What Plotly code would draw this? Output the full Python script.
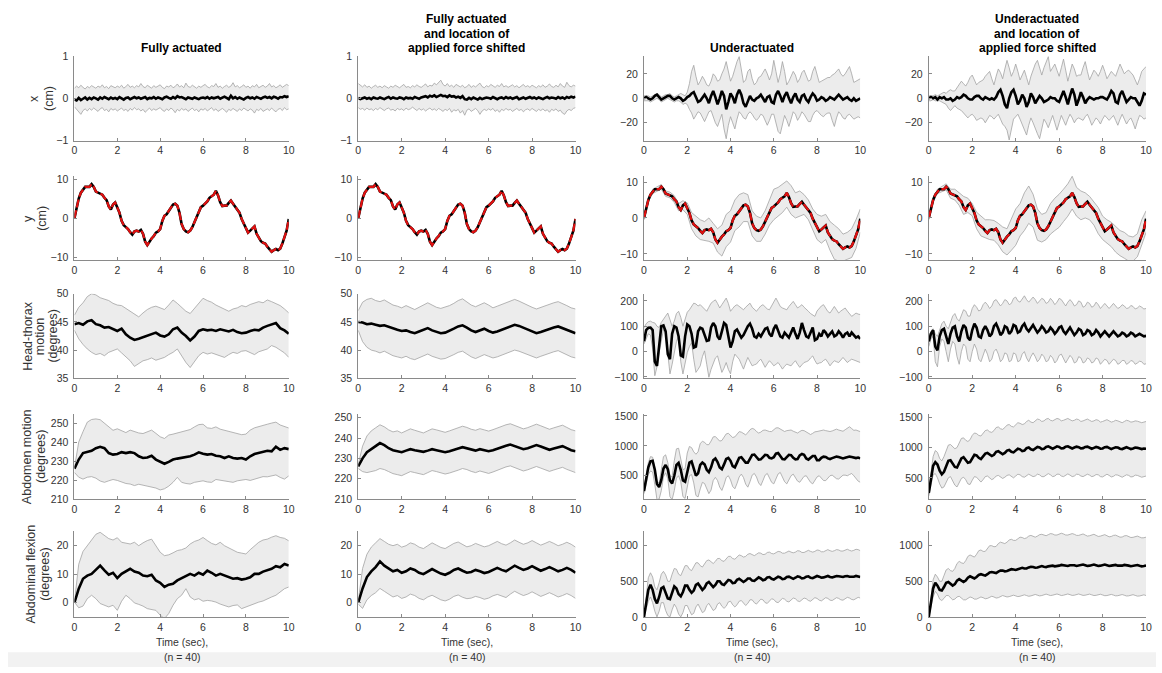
import plotly.graph_objects as go

W, H = 1162, 673
T101 = [i / 10 for i in range(101)]
T51 = [i / 5 for i in range(51)]

# ---------------- Row 1 : x (cm) ----------------
R1C1_MEAN = [-0.03,-0.05,0.01,-0.04,-0.01,0.02,-0.03,0.01,-0.02,0.02, 0.00,-0.03,0.02,-0.01,0.03,0.00,-0.02,0.02,-0.01,0.01, -0.02,0.03,0.00,-0.03,0.01,0.02,-0.02,0.01,0.03,0.00, 0.02,-0.01,0.01,0.03,-0.02,0.01,0.00,0.03,-0.01,0.02, 0.00,-0.02,0.02,0.04,0.01,-0.01,0.03,0.00,0.05,0.02, 0.03,0.00,-0.02,0.02,0.01,-0.01,0.02,0.00,-0.02,0.01, 0.02,0.00,0.03,-0.01,0.02,0.00,0.01,0.03,-0.01,0.02, 0.04,0.01,-0.02,0.06,0.00,0.03,-0.01,0.02,0.00,-0.03, 0.01,0.03,0.00,0.02,-0.01,0.03,0.01,-0.01,0.02,0.04, 0.01,0.03,0.00,0.04,0.02,-0.01,0.03,0.02,0.05,0.03, 0.05]
R1C1_UP = [0.24,0.29,0.25,0.31,0.26,0.22,0.28,0.25,0.30,0.27, 0.24,0.29,0.26,0.32,0.25,0.28,0.23,0.30,0.27,0.25, 0.29,0.26,0.31,0.24,0.28,0.33,0.26,0.29,0.25,0.30, 0.27,0.35,0.28,0.25,0.31,0.27,0.24,0.30,0.26,0.29, 0.32,0.26,0.23,0.29,0.27,0.31,0.25,0.28,0.34,0.27, 0.30,0.25,0.36,0.28,0.26,0.31,0.27,0.24,0.29,0.26, 0.30,0.33,0.27,0.25,0.30,0.28,0.35,0.26,0.29,0.24, 0.28,0.31,0.26,0.29,0.37,0.27,0.30,0.25,0.28,0.32, 0.26,0.29,0.24,0.30,0.27,0.33,0.25,0.28,0.31,0.26, 0.29,0.35,0.27,0.30,0.25,0.28,0.32,0.26,0.29,0.33, 0.30]
R1C1_LO = [-0.20,-0.26,-0.31,-0.38,-0.29,-0.25,-0.30,-0.24,-0.28,-0.23, -0.27,-0.31,-0.25,-0.22,-0.29,-0.26,-0.32,-0.24,-0.28,-0.25, -0.30,-0.27,-0.23,-0.29,-0.26,-0.31,-0.24,-0.28,-0.22,-0.27, -0.25,-0.30,-0.26,-0.33,-0.27,-0.23,-0.29,-0.25,-0.28,-0.24, -0.22,-0.28,-0.31,-0.25,-0.29,-0.23,-0.27,-0.34,-0.26,-0.30, -0.24,-0.28,-0.25,-0.31,-0.27,-0.23,-0.29,-0.26,-0.32,-0.25, -0.28,-0.24,-0.30,-0.26,-0.22,-0.29,-0.25,-0.31,-0.27,-0.24, -0.28,-0.33,-0.26,-0.29,-0.24,-0.27,-0.31,-0.25,-0.29,-0.23, -0.27,-0.30,-0.25,-0.28,-0.35,-0.26,-0.29,-0.24,-0.31,-0.27, -0.25,-0.29,-0.23,-0.28,-0.32,-0.26,-0.24,-0.29,-0.22,-0.27, -0.25]

R1C2_MEAN = [0.01,-0.02,0.00,0.02,-0.01,0.01,-0.02,0.02,0.00,-0.01, 0.02,0.00,-0.02,0.01,0.03,-0.01,0.02,0.00,-0.01,0.02, 0.01,-0.02,0.02,0.00,0.01,-0.01,0.03,0.01,-0.01,0.02, 0.03,0.05,0.02,0.06,0.04,0.07,0.03,0.06,0.08,0.05, 0.06,0.03,0.07,0.04,0.05,0.02,0.04,0.01,0.05,-0.02, -0.03,0.01,-0.02,0.02,-0.01,-0.03,0.01,-0.02,0.00,0.02, 0.01,-0.01,0.03,0.00,-0.02,0.01,0.02,-0.01,0.03,0.00, 0.02,-0.01,0.01,0.03,-0.02,0.00,0.02,-0.01,0.01,0.03, 0.00,0.02,-0.01,0.02,0.00,-0.02,0.01,0.03,0.00,0.02, 0.01,-0.01,0.03,0.00,0.02,-0.01,0.03,0.01,0.04,0.02, 0.04]
R1C2_UP = [0.35,0.30,0.27,0.32,0.26,0.29,0.24,0.28,0.31,0.26, 0.29,0.25,0.30,0.27,0.24,0.29,0.26,0.31,0.28,0.25, 0.29,0.33,0.26,0.28,0.25,0.30,0.27,0.32,0.28,0.26, 0.30,0.34,0.27,0.31,0.29,0.36,0.32,0.38,0.43,0.33, 0.29,0.35,0.28,0.31,0.26,0.33,0.29,0.27,0.31,0.25, 0.28,0.33,0.26,0.30,0.27,0.31,0.36,0.28,0.25,0.30, 0.27,0.33,0.29,0.26,0.31,0.28,0.35,0.27,0.30,0.26, 0.29,0.32,0.27,0.30,0.25,0.29,0.33,0.27,0.30,0.26, 0.31,0.28,0.25,0.30,0.27,0.32,0.26,0.29,0.34,0.28, 0.26,0.31,0.27,0.35,0.29,0.26,0.38,0.30,0.27,0.31, 0.29]
R1C2_LO = [-0.22,-0.26,-0.24,-0.28,-0.23,-0.27,-0.25,-0.29,-0.24,-0.27, -0.22,-0.26,-0.29,-0.25,-0.23,-0.28,-0.26,-0.30,-0.24,-0.27, -0.25,-0.29,-0.23,-0.27,-0.25,-0.21,-0.26,-0.29,-0.24,-0.28, -0.25,-0.30,-0.26,-0.23,-0.28,-0.25,-0.29,-0.24,-0.27,-0.31, -0.26,-0.29,-0.24,-0.33,-0.27,-0.30,-0.26,-0.35,-0.29,-0.40, -0.28,-0.25,-0.31,-0.27,-0.24,-0.29,-0.38,-0.30,-0.26,-0.29, -0.25,-0.28,-0.24,-0.31,-0.27,-0.33,-0.26,-0.29,-0.24,-0.28, -0.26,-0.31,-0.27,-0.24,-0.29,-0.26,-0.32,-0.27,-0.25,-0.29, -0.24,-0.28,-0.31,-0.26,-0.29,-0.25,-0.30,-0.27,-0.33,-0.26, -0.29,-0.25,-0.31,-0.28,-0.35,-0.38,-0.30,-0.26,-0.29,-0.24, -0.22]

R1C3_MEAN = [0,1,0,-1,0,2,3,1,-1,0, 1,2,2,0,-1,0,1,0,-2,-1, 1,2,4,5,1,-3,-2,1,3,0, -4,2,6,1,-5,0,6,2,-9,-3, 4,1,-4,3,7,3,-4,-7,-2,2, -1,-2,0,1,3,0,-3,1,2,-3, -4,3,6,2,-3,2,5,0,-4,1, 4,-1,-3,2,3,-1,-3,1,4,2, -2,-1,1,0,-2,-1,1,0,-1,1, 3,1,-1,0,1,-1,-2,0,-2,-1, 0]
R1C3_UP = [2,2,2,1,2,3,4,3,1,2, 3,3,4,2,1,2,3,4,3,2, 5,12,22,27,18,11,14,18,15,11, 10,14,20,18,14,15,20,24,30,22, 14,18,25,30,34,25,13,15,22,24, 16,11,13,17,18,21,24,20,15,20, 31,22,13,20,30,22,11,14,18,22, 19,13,16,21,23,18,14,15,22,26, 20,13,14,15,16,17,17,19,20,22, 24,20,18,20,23,26,20,13,14,15, 16]
R1C3_LO = [-2,-2,-2,-3,-2,-1,0,-1,-3,-2, -1,0,-1,-2,-3,-2,-2,-3,-5,-4, -5,-9,-12,-17,-14,-11,-12,-16,-19,-15, -11,-10,-15,-20,-23,-17,-13,-25,-33,-22, -15,-20,-25,-17,-11,-13,-16,-17,-13,-11, -13,-16,-18,-16,-13,-14,-18,-22,-18,-13, -13,-20,-27,-29,-20,-14,-18,-23,-17,-11, -13,-18,-15,-11,-13,-16,-19,-19,-14,-11, -10,-12,-14,-15,-13,-12,-12,-18,-23,-16, -11,-13,-16,-17,-14,-13,-15,-17,-16,-15, -16]

R1C4_MEAN = [0,1,0,1,-1,1,0,1,-1,-1, 0,-2,-1,1,0,1,3,2,0,-1, -1,1,2,2,0,-1,1,0,-1,0, -1,1,5,7,2,-5,-8,0,5,7, 2,-5,-2,3,0,-7,-3,4,1,-4, -1,2,0,-3,-2,-1,1,0,0,-2, -3,2,6,1,-5,2,8,3,-6,-1, 5,1,-4,-1,1,0,-1,0,0,1, 1,0,-1,2,6,4,-3,-4,3,6, 1,-3,-1,1,0,0,-3,-6,-2,4, 3]
R1C4_UP = [2,2,2,3,2,3,4,5,4,6, 7,6,6,9,12,14,12,10,13,17, 19,15,11,13,14,15,18,20,22,16, 11,18,24,21,16,24,31,25,18,22, 28,22,15,19,23,17,11,18,24,28, 31,25,19,25,30,34,22,25,28,23, 18,25,32,23,14,21,28,24,18,19, 19,25,30,22,15,19,23,21,18,22, 27,22,16,19,22,20,18,23,28,24, 20,22,23,21,19,15,11,16,22,24, 26]
R1C4_LO = [-2,-2,-1,-2,-2,-2,-3,-4,-5,-8, -10,-8,-6,-8,-9,-10,-12,-14,-16,-14, -13,-15,-18,-17,-16,-17,-20,-17,-14,-15, -17,-15,-13,-17,-21,-23,-26,-34,-25,-17, -15,-13,-17,-21,-26,-30,-22,-16,-20,-25, -29,-33,-25,-17,-20,-24,-19,-14,-20,-26, -20,-14,-18,-22,-17,-13,-16,-20,-17,-16, -17,-18,-15,-13,-17,-22,-19,-16,-18,-21, -17,-14,-16,-18,-16,-14,-18,-22,-17,-13, -17,-21,-18,-16,-20,-25,-19,-14,-15,-17, -16]

# ---------------- Row 2 : y (cm) ----------------
Y_TARGET = [0,3,5,6.5,7.4,8,8,8,8.7,8, 6.8,6.6,6.4,6,5.2,4.6,3,2.2,3.5,4, 2.7,1.4,-0.7,-1.8,-2.3,-2.8,-3.6,-4.2,-3.4,-3.2, -3.4,-3,-4,-6,-6.9,-6,-5.2,-4.6,-3.7,-3.4, -2.8,-0.7,0.6,1,1.8,2.9,3.5,3.7,3.2,1.4, -1.5,-2.8,-3.4,-3.6,-3.2,-2.3,-1.1,0.2,1.4,2.8, 3.2,3.7,4.3,5.2,5.6,6,7,5.8,4.1,3.1, 3.2,3.2,3.9,4.5,3.7,2.9,2.4,1.4,-0.2,-1.5, -2.8,-3.7,-3.2,-2.6,-2.1,-4,-4.8,-5.9,-6.3,-6.5, -7.3,-7.9,-8.6,-8.2,-7.9,-8.2,-7.8,-6.5,-4.8,-3.2, -0.2]
R2C3_UP = [0.5,5.5,8,8.7,9.3,7.5,7.2,6.2,4,4.8, 4.2,1.5,0.5,-0.5,-1,0,-1.5,-3,-2,1, 2,5,6.5,7,6.5,2,0.5,0,2,5, 8,8.5,9.5,10.3,9,7,7.5,6.5,5,2.5, 1,0.5,1,-1,-2,-3,-4.5,-4,-3,-0.5, 2.5]
R2C3_LO = [-0.5,4.5,6.8,7.3,8,6,5.6,4.3,2,2.3, 1,-3,-5,-6,-6.2,-6.5,-7,-9.5,-10.6,-8, -6.7,-3.5,-2.5,-1,-1,-5,-6.5,-6.5,-4.5,-2, -0.5,0.5,1.5,3,1,0,0.5,1,-0.5,-3.5, -6,-7,-6,-9,-11.5,-12,-12,-11.5,-11,-8.5, -4]
R2C4_UP = [0.5,5.5,8,8.8,9.5,8,8,7,6,5.5, 4,1.6,0.5,-0.5,-0.5,-0.7,-1.5,-2.5,-3,0, 2.5,4,7,8.9,6.6,2.5,1,1.5,4,5.5, 6.6,8,9.5,11.6,8.5,7.5,7,6,4.5,2.9, 0.5,-0.5,-1.2,-2.5,-3.5,-4,-5,-5.3,-4.4,-0.5, 2]
R2C4_LO = [-0.5,4.5,6.8,7.2,7.8,5.5,5,3.5,1,1.5, 0.6,-3,-5,-5.5,-6,-6.2,-7.5,-9.4,-10.3,-9, -7.6,-5,-3.5,-1.5,-2.5,-6.2,-6.7,-6,-4.5,-3.5, -2.6,-1,0.5,2.5,0.5,-0.5,0,-0.5,-2,-4.4, -6,-7,-8,-9.5,-10.5,-11.2,-12,-12,-10.8,-7.5, -4]

# ---------------- Row 3 : head-thorax (deg) ----------------
R3C1_MEAN = [44.6,44.8,44.5,45.1,45.3,44.6,44.4,44.0,44.1,43.7,43.4,43.8,42.8,42.2,41.8,42.0,42.3,42.6,42.8,43.1,42.6,42.4,42.8,43.7,44.0,43.1,42.5,41.7,42.4,43.4,43.7,43.5,43.6,43.4,43.7,43.5,43.3,43.6,43.2,43.0,43.1,43.4,43.6,43.5,44.0,44.3,44.5,44.8,43.9,43.5,42.9]
R3C1_UP = [46.2,47.6,48.4,49.5,50.0,49.8,49.3,49.0,48.8,48.3,48.0,47.9,47.4,46.9,46.5,45.9,46.6,47.2,47.6,47.8,47.5,47.2,48.0,48.9,48.3,47.6,46.9,46.5,47.4,48.4,49.2,48.8,48.5,48.0,47.6,47.2,46.9,47.3,47.5,47.9,47.7,48.1,48.3,48.6,48.4,48.9,48.6,48.2,47.9,47.3,46.6]
R3C1_LO = [43.5,42.0,41.0,40.2,39.6,39.2,39.4,39.0,39.6,39.9,40.2,39.5,38.8,38.1,37.1,37.6,38.1,38.3,38.6,38.2,38.4,38.7,39.2,39.6,40.2,38.9,37.8,36.9,37.9,39.0,39.6,39.3,39.5,39.2,38.9,38.7,39.2,39.6,39.4,39.8,39.9,39.5,39.2,39.7,40.0,40.2,40.8,40.5,40.0,39.5,38.7]

R3C2_MEAN = [45.0,44.9,44.6,44.7,44.5,44.3,44.4,44.1,43.8,43.6,43.4,43.5,43.2,43.0,43.3,43.6,43.9,43.5,43.2,43.0,43.1,43.4,43.8,44.2,44.4,44.0,43.5,43.2,43.5,43.8,43.4,43.1,43.3,43.6,43.9,44.2,44.5,44.3,44.0,43.6,43.3,43.0,43.2,43.5,43.8,44.0,44.2,43.9,43.5,43.2,43.0]
R3C2_UP = [47.0,48.5,49.0,49.2,48.8,48.6,48.9,48.4,48.0,47.8,47.5,47.9,47.6,47.2,47.6,48.0,48.4,48.0,47.6,47.4,47.6,47.9,48.3,48.8,49.1,48.6,48.0,47.7,48.0,48.4,48.0,47.5,47.8,48.1,48.4,48.7,49.0,48.7,48.3,47.9,47.6,47.3,47.6,47.9,48.2,48.4,48.6,48.3,47.9,47.5,47.3]
R3C2_LO = [43.5,41.5,40.5,40.0,39.8,39.5,39.8,39.4,39.0,38.8,38.6,38.9,38.5,38.3,38.6,38.9,39.3,38.9,38.6,38.4,38.5,38.8,39.2,39.6,39.8,39.3,38.8,38.5,38.9,39.2,38.9,38.6,38.8,39.1,39.4,39.7,40.0,39.8,39.5,39.2,38.9,38.6,38.9,39.2,39.5,39.7,39.9,39.5,39.1,38.8,38.6]

R3C3_MEAN = [41,85,94,95,85,-40,-56,30,100,103, 80,-10,-30,70,100,95,60,-15,-20,60, 107,100,70,16,20,80,94,90,65,42, 45,95,113,100,60,48,80,113,105,60, 16,40,80,87,70,55,65,85,100,110, 90,60,55,70,60,75,90,94,70,60, 90,105,85,60,55,75,65,55,75,95, 70,50,75,113,85,60,55,75,95,45, 50,70,60,85,75,60,70,80,60,65, 80,70,55,70,75,60,75,65,55,60, 50]
R3C3_UP = [94,110,118,120,115,113,100,95,115,130, 140,152,130,100,120,150,159,135,100,130, 155,165,180,191,188,180,185,175,165,159, 175,191,198,204,190,172,185,200,211,190, 159,170,180,185,178,170,165,175,185,191, 175,165,159,170,180,185,175,168,165,180, 200,211,195,178,172,168,165,178,190,198, 185,172,178,185,175,165,159,150,145,139, 160,172,180,185,170,158,152,165,178,165, 152,160,168,172,160,148,139,145,152,148, 146]
R3C3_LO = [30,50,70,65,10,-95,-60,-4,50,87, 75,-20,-88,-50,-10,40,61,-40,-88,-50, -4,20,35,-30,-82,-70,-56,-20,3,-50, -101,-70,-43,-25,-17,-50,-82,-65,-43,-70, -88,-40,-10,-20,-30,-50,-69,-45,-23,-40, -56,-52,-49,-38,-30,-45,-62,-48,-36,-45, -56,-50,-43,-55,-69,-58,-49,-53,-56,-45, -36,-50,-62,-52,-43,-40,-36,-25,-17,-35, -49,-45,-43,-35,-30,-42,-56,-45,-36,-40, -43,-33,-23,-33,-43,-36,-30,-33,-36,-40, -43]

R3C4_MEAN = [40,70,85,20,5,60,85,90,60,30, 70,95,100,60,40,80,105,95,55,45, 85,110,95,60,55,85,100,85,60,70, 100,110,90,65,75,100,95,70,80,105, 100,75,80,100,110,90,80,95,105,90, 75,85,100,90,75,80,95,85,70,80, 95,100,80,70,85,95,80,65,75,90, 85,65,70,85,80,65,70,85,75,60, 70,80,70,60,70,80,70,60,65,75, 70,60,65,75,70,60,65,70,65,60, 62]
R3C4_UP = [60,80,90,70,60,90,110,120,100,90, 120,140,150,130,120,145,165,160,140,140, 170,185,175,160,165,185,195,185,170,180, 200,205,190,180,190,205,200,185,190,210, 215,200,195,210,220,205,195,205,215,205, 190,200,210,205,190,195,210,200,185,195, 210,205,190,180,195,205,195,180,185,200, 195,175,180,195,190,175,180,195,185,170, 180,190,180,170,180,190,180,170,175,185, 180,170,172,182,178,168,172,180,175,168, 170]
R3C4_LO = [20,50,60,-40,-60,20,50,40,0,-40, 10,40,30,-20,-50,0,30,20,-30,-40, 0,30,10,-30,-40,-10,10,-10,-40,-30, 0,10,-10,-40,-30,-5,-10,-40,-35,-5, -10,-40,-35,-10,0,-25,-40,-20,-5,-20, -40,-30,-10,-20,-40,-35,-15,-25,-45,-35, -15,-10,-30,-45,-30,-15,-25,-45,-40,-20, -25,-45,-40,-25,-30,-45,-40,-25,-30,-50, -40,-30,-35,-50,-40,-30,-35,-50,-45,-35, -35,-50,-45,-35,-38,-50,-45,-38,-40,-50, -48]

# ---------------- Row 4 : abdomen motion (deg) ----------------
R4C1_MEAN = [226.0,230.8,234.2,234.7,235.4,236.8,237.5,236.8,234.2,233.4,233.7,234.7,234.2,234.7,234.2,232.5,231.6,231.9,232.8,230.8,229.6,228.6,229.6,230.8,231.3,231.6,232.0,232.5,233.4,234.6,233.9,233.4,233.7,232.8,232.5,231.6,232.5,231.6,231.3,231.6,230.8,232.5,233.7,234.2,235.1,235.4,235.1,237.6,235.9,236.8,236.3]
R4C1_UP = [226.5,240.0,245.5,250.5,251.9,252.2,251.8,250.0,248.0,246.2,247.0,245.8,245.0,246.3,245.5,244.8,244.5,245.2,246.3,244.6,242.8,241.9,243.7,244.2,244.9,245.5,246.0,246.6,248.0,249.2,249.4,247.5,247.2,248.0,246.8,246.3,245.6,245.2,244.5,243.9,244.2,246.3,247.5,248.0,248.8,249.4,250.0,250.5,249.0,248.3,247.4]
R4C1_LO = [224.0,221.5,220.5,221.5,221.8,221.0,219.5,218.8,219.6,220.3,219.8,218.8,218.2,217.9,217.1,217.8,217.4,216.6,216.3,215.8,214.8,215.4,216.8,218.8,221.4,218.8,218.2,217.9,218.8,219.3,219.6,219.0,218.8,220.3,219.9,219.6,219.0,218.8,219.6,220.0,220.3,219.8,220.5,221.4,221.8,221.7,222.3,222.7,221.4,220.5,222.2]

R4C2_MEAN = [226,230,233,234.5,236,237.5,236.5,235,234,233.5,233,233.8,234.5,234,233.5,233.2,233.8,234.5,234,233.5,233,233.5,234,234.8,235.5,235,234.2,233.8,234.5,234,233.5,234,234.8,235.5,236.2,236.8,236,235.2,234.5,235,235.8,236.5,235.8,235,234.2,234.8,235.5,236,235,234,233.5]
R4C2_UP = [227,236,241,243.5,245,246.5,245.5,244,243,243.5,242.5,243.5,244.5,243.8,243,242.5,243.5,244.5,244,243.2,242.8,243.5,244.2,245,245.8,245.2,244.3,243.8,244.6,244,243.4,244.1,245,245.8,246.5,247,246.2,245.3,244.5,245.1,246,246.8,246,245.1,244.3,245,245.8,246.3,245.2,244.1,243.5]
R4C2_LO = [225,223.5,223,223.5,224,225,224.5,223.5,222.5,222,221.5,222.5,223.5,223,222.5,222,223,224,223.5,222.8,222.3,222.8,223.4,224.2,225,224.5,223.6,223,223.8,223.2,222.6,223.3,224.2,225,225.8,226.3,225.5,224.6,223.8,224.4,225.3,226,225.2,224.4,223.6,224.3,225,225.6,224.6,223.6,223]

R4C3_MEAN = [243,450,640,740,750,600,360,310,430,620, 680,610,420,370,500,680,715,600,420,400, 560,720,740,620,500,540,680,720,690,600, 560,640,760,790,730,640,610,690,780,800, 750,660,640,720,800,810,770,720,720,790, 850,855,810,770,775,820,850,845,800,790, 810,870,880,830,780,775,820,850,845,800, 775,780,840,865,850,790,770,800,830,830, 760,760,800,820,815,790,780,795,810,820, 815,800,790,800,810,820,815,800,795,805, 790]
R4C3_UP = [300,520,720,820,810,620,400,380,600,820, 850,720,500,480,750,950,960,800,600,620, 880,990,970,900,860,900,1040,1075,1060,1020, 1020,1080,1150,1156,1110,1080,1090,1150,1200,1210, 1170,1140,1150,1200,1238,1230,1200,1185,1220,1270, 1292,1280,1240,1215,1230,1260,1265,1250,1240,1240, 1270,1300,1303,1280,1250,1240,1255,1265,1265,1245, 1230,1215,1240,1260,1255,1230,1210,1190,1210,1235, 1240,1250,1260,1265,1255,1245,1240,1250,1270,1280, 1265,1250,1245,1270,1300,1320,1290,1260,1265,1250, 1238]
R4C3_LO = [200,380,520,580,560,350,100,110,250,480, 550,450,150,100,250,460,500,400,150,120, 300,500,520,380,170,145,280,390,370,290, 200,260,420,473,420,310,254,350,470,500, 430,320,282,370,480,527,470,360,309,400, 510,538,480,380,336,420,510,538,470,390, 364,440,530,555,480,400,364,430,500,527, 470,410,391,440,490,500,450,390,364,420, 480,500,460,420,418,460,500,510,480,450, 445,480,510,510,500,520,538,500,445,410, 391]

R4C4_MEAN = [250,500,700,760,720,620,560,600,700,780, 790,740,680,670,740,820,840,800,750,760, 830,880,870,830,810,850,900,910,880,860, 880,930,940,910,890,910,950,960,930,920, 950,980,970,940,950,990,1000,970,960,990, 1010,1000,975,980,1010,1020,995,980,1000,1020, 1010,985,990,1015,1020,1000,985,1000,1015,1005, 985,990,1010,1015,995,980,995,1010,1000,980, 985,1005,1010,990,975,990,1005,1000,980,975, 995,1005,990,975,985,1000,995,980,975,985, 980]
R4C4_UP = [300,600,850,950,920,820,780,850,960,1040, 1050,1010,980,1000,1080,1150,1160,1120,1100,1130, 1200,1240,1230,1200,1190,1230,1280,1290,1260,1250, 1280,1330,1340,1310,1300,1330,1370,1380,1350,1340, 1370,1410,1400,1380,1390,1430,1450,1420,1410,1440, 1470,1460,1430,1440,1470,1480,1450,1440,1460,1480, 1470,1440,1450,1470,1480,1460,1440,1450,1470,1460, 1430,1440,1460,1470,1450,1430,1440,1460,1450,1420, 1430,1450,1460,1440,1420,1430,1450,1440,1420,1410, 1430,1450,1440,1420,1425,1440,1435,1420,1410,1420, 1430]
R4C4_LO = [200,400,550,570,500,400,330,350,440,500, 520,450,380,350,420,490,510,470,400,390, 460,520,510,460,430,470,520,530,500,470, 490,530,540,510,490,510,540,550,520,500, 530,560,550,520,510,540,560,540,520,530, 560,550,520,520,550,570,550,520,530,560, 560,530,520,550,565,545,520,530,560,555, 530,520,545,560,545,520,530,555,550,520, 515,540,560,540,515,525,550,545,520,510, 530,550,540,515,520,545,540,520,510,520, 530]

# ---------------- Row 5 : abdominal flexion (deg) ----------------
R5C1_MEAN = [0.0,4.9,8.4,9.5,10.1,11.6,13.0,11.3,9.8,10.5,8.6,10.1,10.9,11.9,10.9,10.5,9.5,9.3,9.8,7.8,7.0,5.5,6.3,6.6,7.8,8.6,9.5,10.1,9.5,10.5,9.8,11.3,10.5,9.5,10.1,9.5,8.9,8.4,8.6,8.1,8.4,8.9,10.1,10.1,10.9,11.3,11.9,12.8,12.4,13.6,13.0]
R5C1_UP = [0.2,13.5,18.0,20.0,22.3,24.0,24.7,23.5,22.5,22.0,22.8,21.2,20.8,20.6,21.2,20.0,21.0,21.8,22.3,20.0,17.7,16.5,16.8,17.5,18.3,18.6,19.2,20.6,21.5,22.0,22.9,21.8,20.8,20.3,21.2,20.0,19.2,18.5,17.7,17.4,17.1,18.6,20.0,21.2,22.0,22.3,23.0,23.5,22.9,22.6,21.7]
R5C1_LO = [0.2,-1.8,-1.2,1.4,2.6,1.4,-0.3,-1.0,-1.5,-0.9,-2.7,0.5,2.6,1.4,-0.1,-0.6,-1.2,-2.1,-2.5,-2.7,-4.4,-5.6,-3.8,-0.9,1.4,2.6,4.9,2.0,1.0,1.4,0.5,0.8,0.6,0.2,-0.5,-0.9,-1.5,-1.0,-0.8,-2.1,-1.5,-1.0,-0.3,0.2,0.6,1.4,2.0,2.6,3.7,4.9,5.5]

R5C2_MEAN = [0,5,9,11,12.5,14.5,13,12,11,11.5,10.5,11,12,11.5,10.5,10,11,11.8,11,10.2,9.8,10.5,11.5,12,11.2,10.5,10.8,11.5,11,10.4,10.8,11.6,12.2,11.5,11,12,13,12.2,11.5,12,12.8,12,11.2,11.8,12.5,11.8,11,11.5,12.2,11.5,10.5]
R5C2_UP = [0.5,12,17,19.5,21,22.5,21.5,20.5,20,20.5,19.5,20,21,20.5,19.5,19,20,21,20.2,19.4,19,19.8,20.8,21.3,20.5,19.6,20,20.8,20.2,19.6,20,20.8,21.5,20.7,20.2,21,22,21.2,20.5,21,21.8,21,20.2,20.8,21.5,20.8,20,20.5,21.2,20.5,19.5]
R5C2_LO = [-0.5,-2,1,2.5,3.5,5,4,3,2,2.5,1.5,2,3,2.5,1.5,1,2,2.6,1.8,1,0.6,1.2,2.2,2.7,1.9,1.4,1.6,2.2,1.8,1.2,1.6,2.4,2.9,2.3,1.8,3,4,3.2,2.5,3,3.8,3,2.2,2.8,3.5,2.8,2,2.5,3.2,2.5,1.5]

R5C3_MEAN = [0,200,380,450,380,250,190,280,400,420, 340,260,250,350,430,400,320,290,350,440, 440,380,340,370,450,470,420,380,410,470, 490,450,420,450,500,500,460,450,490,520, 510,475,480,520,535,510,490,510,540,540, 510,505,535,555,540,515,525,555,560,535, 525,545,565,555,530,535,560,565,545,535, 550,570,560,540,545,565,570,550,545,560, 575,565,550,555,570,575,560,555,565,575, 570,560,560,570,575,565,560,565,575,570, 560]
R5C3_UP = [0,300,550,620,560,420,380,480,600,640, 590,500,500,600,680,670,600,580,650,720, 720,670,650,700,760,760,720,700,740,790, 800,770,750,780,820,820,790,780,810,850, 850,820,810,840,870,860,840,850,880,890, 870,860,880,900,895,875,880,905,910,890, 885,900,920,915,895,895,915,925,910,900, 910,930,925,905,905,925,935,920,910,920, 940,935,915,915,935,945,930,920,930,945, 940,925,925,940,950,935,925,935,950,945, 930]
R5C3_LO = [0,100,220,280,200,80,0,80,200,200, 90,20,0,100,180,130,40,0,60,160, 160,90,30,50,140,180,120,60,80,160, 190,140,90,110,180,200,150,120,150,210, 220,170,140,170,220,230,190,160,190,240, 240,200,180,210,250,240,200,190,225,255, 245,210,200,230,260,250,220,210,240,265, 255,225,215,245,265,255,230,220,245,270, 260,235,225,250,270,260,235,230,255,270, 260,240,235,255,275,265,245,240,260,275, 265]

R5C4_MEAN = [0,220,400,480,440,380,370,420,480,490, 460,440,460,510,530,510,490,510,550,570, 555,540,560,590,600,590,580,600,625,630, 620,615,635,650,650,640,645,660,670,665, 660,670,685,690,680,680,695,705,700,690, 695,710,715,705,700,710,720,720,710,710, 720,730,725,715,715,725,730,725,715,720, 730,735,725,715,720,730,735,725,715,720, 730,735,725,715,720,730,730,720,715,720, 730,730,720,712,718,728,728,718,710,715, 722]
R5C4_UP = [0,300,520,600,560,500,500,580,660,680, 650,640,680,750,780,760,750,790,850,870, 850,840,880,930,940,920,920,960,1000,1000, 985,990,1030,1050,1040,1030,1050,1080,1090,1075, 1075,1100,1120,1115,1100,1110,1135,1145,1130,1120, 1135,1155,1160,1145,1140,1155,1170,1165,1150,1150, 1165,1175,1165,1150,1150,1165,1170,1160,1145,1145, 1160,1165,1150,1135,1140,1155,1160,1145,1130,1135, 1150,1155,1140,1125,1130,1145,1148,1135,1120,1122, 1138,1142,1130,1115,1118,1130,1135,1122,1110,1112, 1120]
R5C4_LO = [0,140,280,360,320,250,230,260,300,300, 270,240,250,280,290,270,240,240,260,280, 270,250,250,270,280,270,255,260,280,290, 280,265,270,290,300,290,280,285,300,305, 295,285,290,305,310,300,290,295,310,315, 305,295,300,315,320,310,300,305,318,322, 312,300,305,318,322,312,302,305,318,322, 312,302,305,316,320,310,300,303,315,318, 308,298,300,312,316,306,296,298,310,314, 304,294,296,308,312,302,292,294,305,310, 300]

# ---------------- labels / ticks ----------------
COL_TITLES = [["Fully actuated"],
              ["Fully actuated", "and location of", "applied force shifted"],
              ["Underactuated"],
              ["Underactuated", "and location of", "applied force shifted"]]
ROW_LABELS = [["x", "(cm)"], ["y", "(cm)"], ["Head-thorax", "motion", "(degrees)"],
              ["Abdomen motion", "(degrees)"], ["Abdominal flexion", "(degrees)"]]
X_LABEL = ["Time (sec),", "(n = 40)"]
X_TICKS = [0, 2, 4, 6, 8, 10]

# panel table: (t, mean, upper, lower, target, yrange, yticks)
PANELS = [
    [(T101, R1C1_MEAN, R1C1_UP, R1C1_LO, None, [-1, 1], [-1, 0, 1]),
     (T101, R1C2_MEAN, R1C2_UP, R1C2_LO, None, [-1, 1], [-1, 0, 1]),
     (T101, R1C3_MEAN, R1C3_UP, R1C3_LO, None, [-34.5, 34.5], [-20, 0, 20]),
     (T101, R1C4_MEAN, R1C4_UP, R1C4_LO, None, [-34.5, 34.5], [-20, 0, 20])],
    [(T101, Y_TARGET, None, None, Y_TARGET, [-10.8, 10.8], [-10, 0, 10]),
     (T101, Y_TARGET, None, None, Y_TARGET, [-10.8, 10.8], [-10, 0, 10]),
     (T51, None, R2C3_UP, R2C3_LO, Y_TARGET, [-11.8, 11.7], [-10, 0, 10]),
     (T51, None, R2C4_UP, R2C4_LO, Y_TARGET, [-11.8, 11.7], [-10, 0, 10])],
    [(T51, R3C1_MEAN, R3C1_UP, R3C1_LO, None, [35, 50], [35, 40, 45, 50]),
     (T51, R3C2_MEAN, R3C2_UP, R3C2_LO, None, [35, 50], [35, 40, 45, 50]),
     (T101, R3C3_MEAN, R3C3_UP, R3C3_LO, None, [-105, 228], [-100, 0, 100, 200]),
     (T101, R3C4_MEAN, R3C4_UP, R3C4_LO, None, [-105, 228], [-100, 0, 100, 200])],
    [(T51, R4C1_MEAN, R4C1_UP, R4C1_LO, None, [210, 255], [210, 220, 230, 240, 250]),
     (T51, R4C2_MEAN, R4C2_UP, R4C2_LO, None, [210, 252], [210, 220, 230, 240, 250]),
     (T101, R4C3_MEAN, R4C3_UP, R4C3_LO, None, [110, 1540], [500, 1000, 1500]),
     (T101, R4C4_MEAN, R4C4_UP, R4C4_LO, None, [150, 1560], [500, 1000, 1500])],
    [(T51, R5C1_MEAN, R5C1_UP, R5C1_LO, None, [-5, 25], [0, 10, 20]),
     (T51, R5C2_MEAN, R5C2_UP, R5C2_LO, None, [-5, 25], [0, 10, 20]),
     (T101, R5C3_MEAN, R5C3_UP, R5C3_LO, None, [0, 1200], [0, 500, 1000]),
     (T101, R5C4_MEAN, R5C4_UP, R5C4_LO, None, [0, 1200], [0, 500, 1000])],
]

# ---------------- layout geometry (pixels) ----------------
COLS_PX = [(72, 288), (358, 577), (646, 864), (933, 1152)]
ROWS_PX = [(51, 137), (173, 259), (293, 379), (415, 502), (535, 622)]
YLAB_X = [[32, 47], [25, 39], [25, 37.5, 50], [25, 39], [28.5, 43]]

FONT = "Liberation Sans, Arial, Helvetica, sans-serif"
AX_COLOR = "#8a8a8a"
TXT_COLOR = "#333333"
FILL = "rgb(236,236,236)"
EDGE = "#a3a3a3"


def px(x):
    return x / W


def py(y):
    return 1 - y / H


fig = go.Figure()
layout = {}
ann = []
k = 0
for r, row in enumerate(PANELS):
    for c, (t, mean, up, lo, target, yr, yt) in enumerate(row):
        k += 1
        xa = "x" if k == 1 else f"x{k}"
        ya = "y" if k == 1 else f"y{k}"
        for arr in (mean, up, lo):
            if arr is not None and len(arr) != len(t):
                print("length mismatch", r, c, len(arr), len(t))
        if up is not None:
            fig.add_trace(go.Scatter(x=t, y=lo, mode="lines", line=dict(color=EDGE, width=0.8),
                                     xaxis=xa, yaxis=ya, showlegend=False, hoverinfo="skip"))
            fig.add_trace(go.Scatter(x=t, y=up, mode="lines", line=dict(color=EDGE, width=0.8),
                                     fill="tonexty", fillcolor=FILL,
                                     xaxis=xa, yaxis=ya, showlegend=False, hoverinfo="skip"))
        if target is not None:
            fig.add_trace(go.Scatter(x=T101, y=target, mode="lines", line=dict(color="black", width=2.6),
                                     xaxis=xa, yaxis=ya, showlegend=False))
            fig.add_trace(go.Scatter(x=T101, y=target, mode="lines",
                                     line=dict(color="#e01010", width=2.2, dash="8px,3px"),
                                     xaxis=xa, yaxis=ya, showlegend=False))
        else:
            fig.add_trace(go.Scatter(x=t, y=mean, mode="lines", line=dict(color="black", width=2.6),
                                     xaxis=xa, yaxis=ya, showlegend=False))
        x0, x1 = COLS_PX[c]
        y0, y1 = ROWS_PX[r]
        key_x = "xaxis" if k == 1 else f"xaxis{k}"
        key_y = "yaxis" if k == 1 else f"yaxis{k}"
        common = dict(showline=True, linecolor=AX_COLOR, linewidth=1, ticks="inside", ticklen=3,
                      tickcolor=AX_COLOR, tickwidth=1, showgrid=False, zeroline=False,
                      tickfont=dict(family=FONT, size=10.5, color=TXT_COLOR), mirror=False)
        layout[key_x] = dict(domain=[px(x0), px(x1)], range=[0, 10], tickvals=X_TICKS,
                             anchor=ya, **common)
        layout[key_y] = dict(domain=[py(y1), py(y0)], range=yr, tickvals=yt, anchor=xa,
                             ticklabelstandoff=3, **common)

# column titles
for c, lines in enumerate(COL_TITLES):
    cx = (COLS_PX[c][0] + COLS_PX[c][1]) / 2
    n = len(lines)
    for i, s in enumerate(lines):
        yy = 43 - (n - 1 - i) * 15
        ann.append(dict(x=px(cx), y=py(yy), xref="paper", yref="paper", text=f"<b>{s}</b>",
                        showarrow=False, xanchor="center", yanchor="middle",
                        font=dict(family=FONT, size=12, color="black")))

# row labels
for r, lines in enumerate(ROW_LABELS):
    cy = (ROWS_PX[r][0] + ROWS_PX[r][1]) / 2
    for s, xx in zip(lines, YLAB_X[r]):
        ann.append(dict(x=px(xx), y=py(cy), xref="paper", yref="paper", text=s, textangle=-90,
                        showarrow=False, xanchor="center", yanchor="middle",
                        font=dict(family=FONT, size=12.5, color=TXT_COLOR)))

# x labels
for c in range(4):
    cx = (COLS_PX[c][0] + COLS_PX[c][1]) / 2
    for s, yy in zip(X_LABEL, [648, 663]):
        ann.append(dict(x=px(cx), y=py(yy), xref="paper", yref="paper", text=s,
                        showarrow=False, xanchor="center", yanchor="middle",
                        font=dict(family=FONT, size=10.5, color=TXT_COLOR)))

fig.update_layout(width=W, height=H, margin=dict(l=0, r=0, t=0, b=0),
                  paper_bgcolor="white", plot_bgcolor="white", showlegend=False,
                  annotations=ann,
                  shapes=[dict(type="rect", xref="paper", yref="paper", x0=px(5), x1=1, y0=0, y1=py(658),
                               fillcolor="#f2f2f2", line=dict(width=0), layer="below")],
                  **layout)
fig.write_html("out.html")
